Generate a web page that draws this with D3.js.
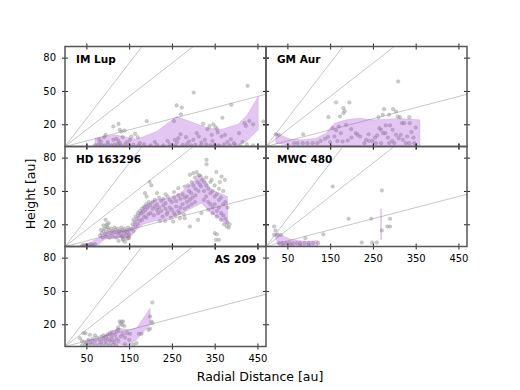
<!DOCTYPE html>
<html>
<head>
<meta charset="utf-8">
<script src="https://cdn.jsdelivr.net/npm/d3@7"></script>
<style>
  body { margin: 0; background: #fff; }
  text { font-family: "DejaVu Sans", sans-serif; }
</style>
</head>
<body>
<div id="chart"></div>
<script>
// ---- data (radius au, height au) ----
var panelNames = ["IM Lup", "GM Aur", "HD 163296", "MWC 480", "AS 209"];
var slopes = [0.1, 0.3, 0.5];          // z/r reference lines
var xTicks = [50, 150, 250, 350, 450];
var yTicks = [20, 50, 80];

var imLupR  = [70, 117, 167, 214, 261, 296, 331, 362, 405, 425, 452];
var imLupLo = [1, 1, 1, 1, 1, 1, 1, 1, 1.5, 5, 15];
var imLupHi = [7.5, 10.5, 6.6, 13.5, 27, 22, 17, 15, 20, 28, 45];
var imLupPts = [[125,20.4],[113,18],[139,14.4],[132,13.5],[128,15],[92,8.4],[84,4.5],[113,6],[125,5],[128,3],
  [152,6],[164,11.4],[170,8.4],[191,22.8],[255,22.8],[261,37],[273,35],[271,29],[301,48.6],[257,6],[265,7.5],
  [283,8.4],[308,12],[313,9],[323,20.4],[333,15.6],[338,18.5],[347,20],[352,17.4],[357,12.6],[356,15.5],
  [368,25.8],[366,9],[374,10.5],[343,10.5],[327,6],[319,3.6],[389,37.5],[388,6.5],[407,12],[420,21],[423,18.6],
  [431,23],[440,20],[427,54.6],[464,22.5],[80,6],[100,4],[145,4],[175,3],[210,4],[240,5],[262,4],[290,4.5],
  [300,6],[345,5],[380,4],[395,3],[415,4],[155,9],[95,10.5],[120,7],[135,8.5],[270,11],
  [70,1],[78,2],[85,1.5],[92,1],[100,2],[108,1],[115,1.5],[122,2],[130,1],[140,2],[150,1],[160,1.5],[172,1],
  [185,2],[200,1],[215,1.5],[230,1],[245,2],[258,1],[275,1.5],[285,2],[295,1],[305,1.5],[318,1],[330,2],
  [340,1],[350,1.5],[360,1],[372,2],[385,1],[398,1.5],[410,1],[425,2],[440,1]];

var gmAurR  = [23, 58, 86, 117, 140, 160, 187, 218, 249, 280, 312, 360];
var gmAurLo = [3, 1, 0.5, 0.5, 0.5, 0.5, 0.5, 0.5, 0.5, 0.5, 0.5, 0.5];
var gmAurHi = [12, 6.6, 6, 7.5, 12, 21, 24, 25.5, 24, 24.6, 25.2, 24];
var gmAurPts = [[23,11],[30,10.5],[87,11],[146,26.4],[164,39.6],[173,27],[181,34.5],[181,30],[184,32],[195,39.6],
  [156,16.5],[164,14.4],[170,18],[175,12],[187,19.5],[199,15.6],[160,9],[167,5],[179,4.5],[191,5.4],[214,10.5],
  [234,6],[241,5],[249,5],[263,26.4],[273,28.5],[276,33.6],[274,12],[269,15],[265,16.5],[279,12],[288,28.5],
  [297,33.6],[304,31.5],[308,27],[313,26.4],[309,58.5],[296,15],[304,10.5],[310,7.5],[315,10.5],[318,21],
  [335,26.4],[336,21],[323,21],[327,3],[335,3],[347,3],[230,3],[257,3],[269,3],[288,3],[300,3],[66,3],[74,3],
  [86,3],[97,3],[109,3],[120,3],[128,5],[138,7],[145,8.5],[150,4],[200,8],[210,12],[220,9],[240,11],[255,8],
  [260,10],[285,8],[295,5],[320,6],[330,9],[340,13],[345,8],[350,17],[280,19],[290,19]];

var hdR  = [40, 55, 78, 93, 117, 152, 167, 183, 210, 241, 269, 296, 319, 343, 380];
var hdLo = [0, 0, 1.5, 6.6, 7.5, 8.4, 15, 20, 23, 25, 29, 34.5, 39, 30, 19.5];
var hdHi = [1, 3, 7.5, 12.6, 14.4, 15, 24, 36, 42, 43.5, 48, 57, 64.5, 51, 45];
var hdPts = [[40,1],[45,1.5],[50,1],[55,1],[60,2],[65,1.5],[70,2],
  [82,10],[86,12],[90,14],[94,11],[98,13],[102,15],[106,12],[110,14],[114,13],[118,15],[122,12],[126,14],
  [130,13],[134,15],[138,12],[142,14],[146,13],[150,15],[84,15],[92,16],[100,17],[108,16],[116,17],[124,16],
  [132,17],[140,16],[148,17],[88,8],[96,9],[104,8],[112,9],[120,8],[128,10],[136,9],[144,10],[150,8],
  [95,24],[98,20],[102,21],[90,19],[125,5],[135,6],[140,4],[145,7],[150,11],[97,18],[132,9],[136,6.6],[148,7.5],
  [155,16],[158,20],[160,24],[163,22],[165,27],[168,25],[170,30],[172,28],[175,32],[178,30],[180,34],[183,31],
  [185,36],[188,33],[190,38],[193,35],[196,40],[199,37],[160,14],[165,18],[170,20],[175,23],[180,24],[185,27],
  [190,26],[195,29],[200,30],[187,48],[191,45],[198,58],[202,55],
  [205,40],[210,42],[215,38],[220,44],[225,41],[230,43],[235,39],[240,45],[245,42],[250,40],[255,44],[260,41],
  [265,46],[270,43],[275,47],[280,44],[205,34],[210,36],[215,33],[220,35],[225,32],[230,37],[235,34],[240,31],
  [245,35],[250,33],[255,30],[260,36],[265,32],[270,35],[275,38],[280,34],[208,28],[218,30],[228,27],[238,29],
  [248,26],[258,28],[268,30],[278,29],[222,23],[234,23],[253,22.5],[269,25.5],[280,25.5],[292,18],[311,24],
  [319,30],[215,48],[235,47],[255,49],[265,52.5],[280,54],
  [285,45],[290,50],[295,48],[300,55],[305,52],[310,58],[315,56],[320,60],[285,40],[292,42],[298,44],[305,46],
  [312,50],[318,54],[325,58],[288,36],[296,38],[304,40],[288,55],[296,58],[304,62],[312,64],
  [325,50],[330,55],[335,52],[340,48],[345,50],[350,45],[355,47],[360,42],[365,44],[370,38],[375,40],[380,35],
  [325,42],[330,45],[335,40],[340,38],[345,35],[350,38],[355,32],[360,35],[365,30],[370,28],[375,25],[380,22],
  [385,20],[330,62],[340,58],[350,55],[360,52],[370,50],[335,33],[345,30],[355,27],[365,24],[372,20],[378,18],
  [383,17],[350,12],[355,11],[353,6],[360,6],[331,78],[331,74],[292,64.5],[300,66],[308,67],[315,64],[343,60],
  [354,67],[366,63],[374,60],[362,58]];

var mwcR  = [22, 30, 58, 93, 121];
var mwcLo = [8, 1, 0.5, 0.5, 0.5];
var mwcHi = [12, 11, 6.6, 4.5, 5.4];
var mwcSpike = [269, 6, 34];           // r, lo, hi of the single-radius band
var mwcPts = [[19,18],[22,14.4],[19,10.5],[27,10.5],[35,10.5],[156,54],[193,25],[246,25],[271,50.4],[271,14.4],
  [290,25],[284,18],[290,18],[92,7.5],[134,11],[224,3.6],[248,3.6],[259,3.6],[30,3],[38,3],[47,3],[55,3],[63,3],
  [72,3],[80,3],[90,3],[100,3],[110,3],[122,3],[40,1],[60,1],[80,1],[100,1]];

var as209R  = [51, 78, 97, 125, 150, 167, 199];
var as209Lo = [2, 2, 2, 2, 1, 6, 19.5];
var as209Hi = [6, 6.6, 10.5, 16.5, 15, 16.5, 34.5];
var as209Pts = [[204,39.6],[199,27],[202,22.5],[204,21],[195,15],[199,16],[173,11.4],[179,11.4],[152,11.4],[128,22.5],
  [132,22.5],[136,22.5],[130,20],[134,19.5],[124,17],[139,18.5],[125,15],[117,10.5],[109,9],[100,11],[95,9],[167,3],
  [43,12],[48,12],[58,10.5],[35,7.5],[40,5],[45,4],[50,3],[55,6],[60,4],[65,7],[70,5],[75,8],[80,6],[85,4],
  [90,7],[95,5],[100,7],[105,5],[110,6],[115,4],[120,7],[125,5],[130,9],[135,11],[140,8],[145,12],[150,6],
  [40,1],[48,1.5],[56,1],[64,2],[72,1],[80,1.5],[88,1],[96,2],[104,1],[112,1.5],[120,1],[140,2],[160,1.5],
  [90,10],[85,9],[70,10],[110,13],[120,14],[105,12]];

// ---- layout ----
var pw = 201, ph = 100;
var colX = [65, 266], rowY = [46.5, 146.5, 246.5];

var panels = [
  {name: panelNames[0], col: 0, row: 0, pts: imLupPts, r: imLupR, lo: imLupLo, hi: imLupHi},
  {name: panelNames[1], col: 1, row: 0, pts: gmAurPts, r: gmAurR, lo: gmAurLo, hi: gmAurHi},
  {name: panelNames[2], col: 0, row: 1, pts: hdPts, r: hdR, lo: hdLo, hi: hdHi},
  {name: panelNames[3], col: 1, row: 1, pts: mwcPts, r: mwcR, lo: mwcLo, hi: mwcHi, spike: mwcSpike, xLabels: true},
  {name: panelNames[4], col: 0, row: 2, pts: as209Pts, r: as209R, lo: as209Lo, hi: as209Hi, xLabels: true, right: true}
];

var x = d3.scaleLinear().domain([0, 470]).range([0, pw]);
var y = d3.scaleLinear().domain([0, 90]).range([ph, 0]);

var svg = d3.select("#chart").append("svg")
    .attr("width", 520)
    .attr("height", 390);

var bandColor = "darkorchid";

panels.forEach(function(p, i) {
  var g = svg.append("g")
      .attr("transform", "translate(" + colX[p.col] + "," + rowY[p.row] + ")");

  g.append("clipPath").attr("id", "clip" + i)
    .append("rect").attr("width", pw).attr("height", ph);

  var inner = g.append("g").attr("clip-path", "url(#clip" + i + ")");

  // reference lines z = k r
  inner.selectAll(".ref")
      .data(slopes)
    .enter().append("line")
      .attr("x1", x(0)).attr("y1", y(0))
      .attr("x2", function(k) { return x(470); })
      .attr("y2", function(k) { return y(470 * k); })
      .attr("stroke", "#b8b8b8")
      .attr("stroke-width", 0.8);

  // scatter
  inner.selectAll(".pt")
      .data(p.pts)
    .enter().append("circle")
      .attr("cx", function(d) { return x(d[0]); })
      .attr("cy", function(d) { return y(d[1]); })
      .attr("r", 1.8)
      .attr("fill", "#999")
      .attr("fill-opacity", 0.5)
      .attr("stroke", "#888")
      .attr("stroke-opacity", 0.45)
      .attr("stroke-width", 0.5);

  // band
  var band = p.r.map(function(r, j) { return {r: r, lo: p.lo[j], hi: p.hi[j]}; });
  var area = d3.area()
      .x(function(d) { return x(d.r); })
      .y0(function(d) { return y(d.lo); })
      .y1(function(d) { return y(d.hi); });
  inner.append("path")
      .datum(band)
      .attr("d", area)
      .attr("fill", bandColor)
      .attr("fill-opacity", 0.28)
      .attr("stroke", bandColor)
      .attr("stroke-opacity", 0.25)
      .attr("stroke-width", 0.6);

  if (p.spike) {
    inner.append("path")
        .datum([[p.spike[0], p.spike[1]], [p.spike[0], p.spike[2]]])
        .attr("d", d3.line().x(function(d) { return x(d[0]); }).y(function(d) { return y(d[1]); }))
        .attr("stroke", bandColor)
        .attr("stroke-opacity", 0.4)
        .attr("stroke-width", 1.2);
  }

  // axes, ticks crossing the spine
  var bottom = g.append("g").attr("transform", "translate(0," + ph + ")")
      .call(d3.axisBottom(x).tickValues(xTicks).tickSize(6).tickPadding(2)
        .tickFormat(p.xLabels ? d3.format("d") : ""));
  var top = g.append("g")
      .call(d3.axisTop(x).tickValues(xTicks).tickSize(6).tickFormat(""));
  var left = g.append("g")
      .call(d3.axisLeft(y).tickValues(yTicks).tickSize(6).tickPadding(3)
        .tickFormat(p.col === 0 ? d3.format("d") : ""));
  var right = g.append("g").attr("transform", "translate(" + pw + ",0)")
      .call(d3.axisRight(y).tickValues(yTicks).tickSize(6).tickFormat(""));

  bottom.selectAll(".tick line").attr("y1", -3).attr("y2", 3);
  top.selectAll(".tick line").attr("y1", -3).attr("y2", 3);
  left.selectAll(".tick line").attr("x1", -3).attr("x2", 3);
  right.selectAll(".tick line").attr("x1", -3).attr("x2", 3);

  [bottom, top, left, right].forEach(function(a) {
    a.select(".domain").remove();
    a.selectAll(".tick line").attr("stroke", "#222").attr("stroke-width", 1);
    a.selectAll(".tick text")
      .attr("font-family", "DejaVu Sans, sans-serif")
      .attr("font-size", "10px")
      .attr("fill", "#000");
  });

  g.append("rect")
      .attr("width", pw).attr("height", ph)
      .attr("fill", "none")
      .attr("stroke", "#555")
      .attr("stroke-width", 1.5);

  g.append("text")
      .attr("x", p.right ? pw - 10 : 11)
      .attr("y", 16.5)
      .attr("text-anchor", p.right ? "end" : "start")
      .attr("font-size", "10.5px")
      .attr("font-weight", "bold")
      .text(p.name);
});

svg.append("text")
    .attr("x", 260).attr("y", 381)
    .attr("text-anchor", "middle")
    .attr("font-size", "12.5px")
    .text("Radial Distance [au]");

svg.append("text")
    .attr("transform", "translate(35,194) rotate(-90)")
    .attr("text-anchor", "middle")
    .attr("font-size", "12.5px")
    .text("Height [au]");
</script>
</body>
</html>
